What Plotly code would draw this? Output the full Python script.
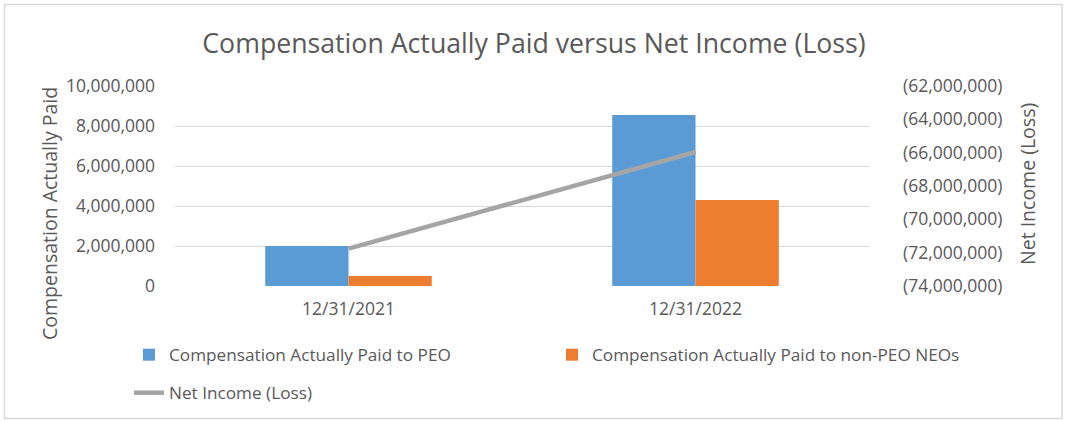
import plotly.graph_objects as go

categories = ["12/31/2021", "12/31/2022"]
cap_peo = [2000000, 8550000]
cap_non_peo = [500000, 4300000]
net_income = [-71760000, -65960000]

left_ticks = [0, 2000000, 4000000, 6000000, 8000000, 10000000]
right_ticks = [-74000000, -72000000, -70000000, -68000000, -66000000, -64000000, -62000000]

def fmt_right(v):
    return "({:,})".format(abs(v)) if v < 0 else "{:,}".format(v)

FONT = "Open Sans"
TXT = "#595959"
W, H = 1066, 421
ML, MR, MT, MB = 175, 197, 86, 135

fig = go.Figure()
fig.add_trace(go.Bar(x=categories, y=cap_peo, name="Compensation Actually Paid to PEO",
                     marker=dict(color="#5B9BD5", line=dict(width=0)), legend="legend"))
fig.add_trace(go.Bar(x=categories, y=cap_non_peo, name="Compensation Actually Paid to non-PEO NEOs",
                     marker=dict(color="#ED7D31", line=dict(width=0)), legend="legend3"))
fig.add_trace(go.Scatter(x=categories, y=net_income, name="Net Income (Loss)", mode="lines",
                         line=dict(color="#A5A5A5", width=4.5), yaxis="y2", legend="legend2"))

pw = W - ML - MR
ph = H - MT - MB
def px_x(p):
    return (p - ML) / pw
def px_y(p):
    return (H - MB - p) / ph

LEG_SIZE = 17.2
TICK_SIZE = 17.5
AX_TITLE = 19.5

def leg(xp, yp):
    return dict(orientation="h", xref="container", yref="container",
                x=xp / W, y=1 - yp / H, xanchor="left", yanchor="middle",
                font=dict(size=LEG_SIZE, color=TXT, family=FONT), bgcolor="rgba(0,0,0,0)")

fig.update_layout(
    width=W, height=H,
    margin=dict(l=ML, r=MR, t=MT, b=MB, autoexpand=False),
    paper_bgcolor="white", plot_bgcolor="white",
    font=dict(family=FONT, color=TXT, size=TICK_SIZE),
    title=dict(text="Compensation Actually Paid versus Net Income (Loss)",
               x=534 / W, xref="container", xanchor="center",
               y=1 - 44 / H, yref="container", yanchor="middle",
               font=dict(size=26.7, color=TXT, family=FONT)),
    barmode="group", bargap=0.52, bargroupgap=0,
    showlegend=True,
    xaxis=dict(type="category", showgrid=False, showline=False, ticks="", automargin=False,
               tickfont=dict(size=TICK_SIZE, color=TXT), ticklabelstandoff=10),
    yaxis=dict(range=[0, 10000000], tickvals=left_ticks, automargin=False,
               ticktext=["{:,}".format(v) for v in left_ticks],
               showgrid=True, gridcolor="#D9D9D9", gridwidth=1.3, zeroline=False,
               showline=False, ticks="", ticklabelstandoff=19,
               tickfont=dict(size=TICK_SIZE, color=TXT)),
    yaxis2=dict(range=[-74000000, -62000000], overlaying="y", side="right", automargin=False,
                tickvals=right_ticks, ticktext=[fmt_right(v) for v in right_ticks],
                showgrid=False, zeroline=False, showline=False, ticks="",
                ticklabelstandoff=33, tickfont=dict(size=TICK_SIZE, color=TXT)),
    legend=leg(129, 355),
    legend3=leg(552, 355),
    legend2=leg(129, 393),
    annotations=[
        dict(text="Compensation Actually Paid", textangle=-90, showarrow=False,
             xref="paper", yref="paper", x=px_x(49), y=px_y(214),
             xanchor="center", yanchor="middle", font=dict(size=AX_TITLE, color=TXT, family=FONT)),
        dict(text="Net Income (Loss)", textangle=-90, showarrow=False,
             xref="paper", yref="paper", x=px_x(1027), y=px_y(184),
             xanchor="center", yanchor="middle", font=dict(size=AX_TITLE, color=TXT, family=FONT)),
    ],
    shapes=[dict(type="rect", xref="paper", yref="paper",
                 x0=px_x(4.5), x1=px_x(1062), y0=px_y(4.5), y1=px_y(418.5),
                 line=dict(color="#D9D9D9", width=1.5), fillcolor="rgba(0,0,0,0)",
                 layer="below")],
)

fig.write_html("out.html", config={"displayModeBar": False},
               post_script="document.body.style.margin='0';document.body.style.padding='0';")
